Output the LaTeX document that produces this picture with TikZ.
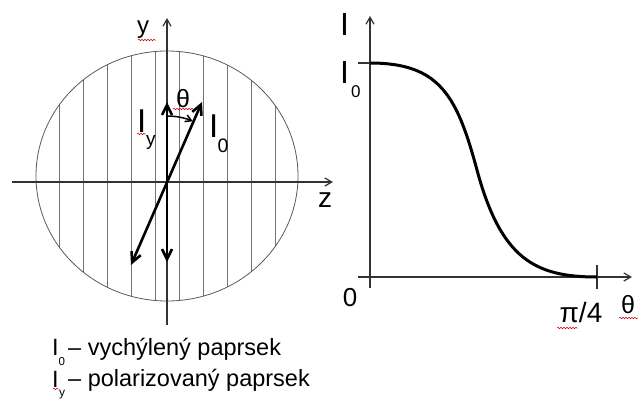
\documentclass[tikz,border=0pt]{standalone}
\usepackage{fontspec}
\setmainfont{Liberation Sans}
\usetikzlibrary{arrows.meta,decorations.pathmorphing}
\begin{document}
\begin{tikzpicture}[x=1pt,y=1pt,
  axis/.style={line width=1.2pt, draw=black!80, -{Straight Barb[length=7pt,width=8pt]}},
  thin/.style={line width=1.2pt, draw=black!80},
  hatch/.style={draw=black!55, line width=0.7pt},
  vec/.style={line width=2.6pt, {Straight Barb[length=10pt,width=10pt]}-{Straight Barb[length=10pt,width=10pt]}},
  lbl/.style={inner sep=0pt, anchor=base west},
  wavy/.style={draw=red!80!black, line width=0.5pt, decorate, decoration={snake, amplitude=0.8pt, segment length=3pt}}
]
\useasboundingbox (0,0) rectangle (641,-402);

% ---------- left: polarisation disc ----------
\coordinate (C) at (167,-176);
\begin{scope}
  \clip (C) ellipse [x radius=131pt, y radius=125pt];
  \foreach \x in {59,83,...,275} \draw[hatch] (\x,-40) -- (\x,-310);
\end{scope}
\draw[draw=black!65, line width=0.8pt] (C) ellipse [x radius=131pt, y radius=125pt];

\coordinate (ybot) at (167,-325);
\coordinate (ytop) at (167,-18);
\coordinate (zleft) at (12,-182);
\coordinate (zright) at (333,-182);
\draw[axis] (ybot) -- (ytop);
\draw[axis] (zleft) -- (zright);

\coordinate (Iyt) at (167,-102);
\coordinate (Iyb) at (167,-262);
\coordinate (I0t) at (202,-102);
\coordinate (I0b) at (131,-265);
\draw[vec] (Iyb) -- (Iyt);
\draw[vec] (I0b) -- (I0t);

\coordinate (arcs) at (167,-116);
\draw[line width=1.5pt, -{Straight Barb[length=6pt,width=7pt]}] (arcs) arc[start angle=90, end angle=67, radius=66pt];

\node[lbl, font=\fontsize{24}{24}\selectfont] (ylab) at (137,-33) {y};
\node[lbl, font=\fontsize{28}{28}\selectfont] (zlab) at (318,-207) {z};
\node[inner sep=0pt, font=\fontsize{25}{25}\selectfont] (thl) at (183,-99) {θ};
\node[lbl, font=\fontsize{33}{33}\selectfont] (IyI) at (137,-132) {I};
\node[lbl, font=\fontsize{19}{19}\selectfont] (Iysub) at (146,-145) {y};
\node[lbl, font=\fontsize{33}{33}\selectfont] (I0I) at (209,-137) {I};
\node[lbl, font=\fontsize{19.5}{19.5}\selectfont] (I0sub) at (217.5,-152) {0};

% ---------- right: intensity curve ----------
\coordinate (vb) at (370,-288);
\coordinate (vt) at (370,-16);
\coordinate (hl) at (358,-277);
\coordinate (hr) at (632,-277);
\draw[axis] (vb) -- (vt);
\draw[axis] (hl) -- (hr);
\coordinate (t0a) at (358,-63);
\coordinate (t0b) at (370,-63);
\draw[thin] (t0a) -- (t0b);
\coordinate (tpa) at (597,-265);
\coordinate (tpb) at (597,-289);
\draw[thin] (tpa) -- (tpb);

\coordinate (cs) at (370,-63);
\coordinate (cm) at (477,-170);
\coordinate (ce) at (597,-277);
\draw[line width=3pt] (cs) .. controls (440,-63) and (457,-96) .. (cm)
                            .. controls (501,-259) and (535,-277) .. (ce);

\node[lbl, font=\fontsize{32}{32}\selectfont] (Ilab) at (340,-35) {I};
\node[lbl, font=\fontsize{32}{32}\selectfont] (I0lab) at (340,-83) {I};
\node[lbl, font=\fontsize{17}{17}\selectfont] (I0labsub) at (351,-97) {0};
\node[inner sep=0pt, font=\fontsize{26}{26}\selectfont] (zero) at (350,-297.5) {0};
\node[inner sep=0pt, anchor=base, font=\fontsize{28}{28}\selectfont] (pi4) at (581,-322) {π/4};
\node[inner sep=0pt, font=\fontsize{25}{25}\selectfont] (thr) at (628,-305) {θ};

% ---------- legend ----------
\node[lbl, font=\fontsize{23.5}{23.5}\selectfont] (L1I) at (52,-355) {I};
\node[lbl, font=\fontsize{11.5}{11.5}\selectfont] (L1s) at (58.5,-365) {0};
\node[lbl, font=\fontsize{23.5}{23.5}\selectfont] (L1t) at (68,-355) {– vychýlený paprsek};
\node[lbl, font=\fontsize{23.5}{23.5}\selectfont] (L2I) at (52,-387) {I};
\node[lbl, font=\fontsize{12}{12}\selectfont] (L2s) at (59,-396) {y};
\node[lbl, font=\fontsize{23.5}{23.5}\selectfont] (L2t) at (68,-386) {– polarizovaný paprsek};

% ---------- spell-check squiggles ----------
\draw[wavy] (138,-40) -- (156,-40);
\draw[wavy] (173,-109) -- (193,-109);
\draw[wavy] (137,-134) -- (146,-134);
\draw[wavy] (557,-328) -- (578,-328);
\draw[wavy] (619,-318) -- (638,-318);
\draw[wavy] (53,-389) -- (59,-389);
\end{tikzpicture}
\end{document}
